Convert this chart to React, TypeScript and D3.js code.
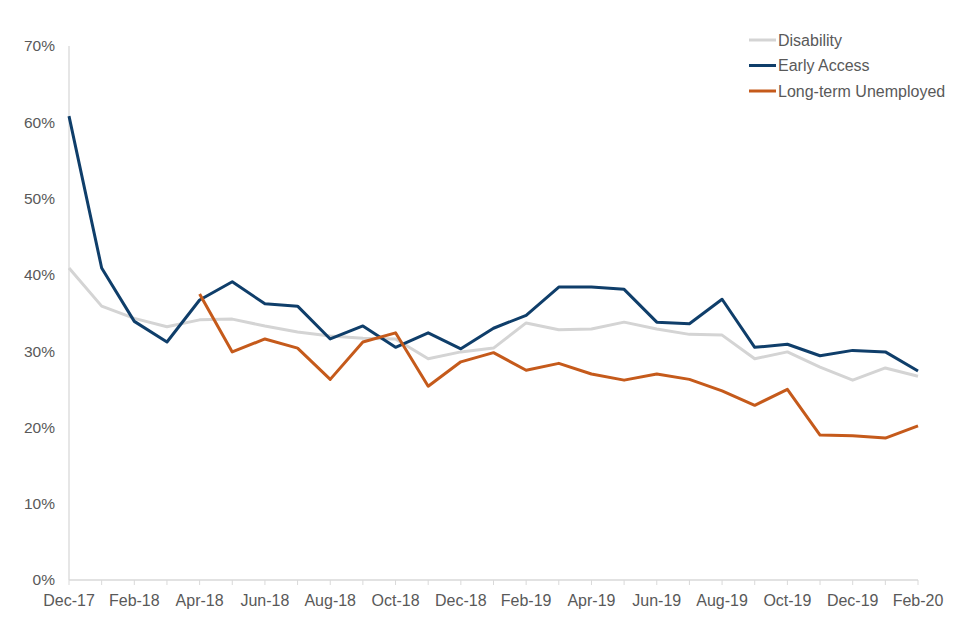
import React from "react";
import * as d3 from "d3";

const months = [
  "Dec-17","Jan-18","Feb-18","Mar-18","Apr-18","May-18","Jun-18","Jul-18","Aug-18","Sep-18","Oct-18","Nov-18",
  "Dec-18","Jan-19","Feb-19","Mar-19","Apr-19","May-19","Jun-19","Jul-19","Aug-19","Sep-19","Oct-19","Nov-19",
  "Dec-19","Jan-20","Feb-20",
];

const disability = [40.9,35.9,34.3,33.2,34.1,34.2,33.3,32.5,32.0,31.7,31.6,29.0,29.9,30.4,33.7,32.8,32.9,33.8,32.9,32.2,32.1,29.0,29.9,27.9,26.2,27.8,26.7];
const earlyAccess = [60.8,40.9,33.9,31.2,36.7,39.1,36.2,35.9,31.6,33.3,30.5,32.4,30.3,33.0,34.7,38.4,38.4,38.1,33.8,33.6,36.8,30.5,30.9,29.4,30.1,29.9,27.4];
const longTerm: (number | null)[] = [null,null,null,null,37.5,29.9,31.6,30.4,26.3,31.2,32.4,25.4,28.6,29.8,27.5,28.4,27.0,26.2,27.0,26.3,24.8,22.9,25.0,19.0,18.9,18.6,20.2];

const yTicks = [0,10,20,30,40,50,60,70];

const series = [
  { name: "Disability", values: disability as (number | null)[], color: "#d4d4d4" },
  { name: "Early Access", values: earlyAccess as (number | null)[], color: "#0f3e6a" },
  { name: "Long-term Unemployed", values: longTerm, color: "#c55a1b" },
];

const font = "'Liberation Sans', Arial, sans-serif";
const textColor = "#595959";

export default function App() {
  const W = 960, H = 640;
  const left = 69, right = 918, top = 46, bottom = 580;
  const x = d3.scalePoint<string>().domain(months).range([left, right]);
  const y = d3.scaleLinear().domain([0, 70]).range([bottom, top]);
  const line = d3.line<number | null>()
    .defined((d) => d !== null)
    .x((_, i) => x(months[i]) as number)
    .y((d) => y(d as number));

  return (
    <svg width={W} height={H} style={{ position: "absolute", left: 0, top: 0, background: "#fff" }}>
      <rect width={W} height={H} fill="#fff" />
      {/* y axis */}
      <line x1={left} x2={left} y1={top} y2={bottom} stroke="#d9d9d9" strokeWidth={1.3} />
      {yTicks.map((t) => (
        <text key={t} x={55} y={y(t)} dy="0.35em" textAnchor="end" fontFamily={font} fontSize={15.5} fill={textColor}>
          {t}%
        </text>
      ))}
      {/* x axis */}
      <line x1={left} x2={right} y1={bottom} y2={bottom} stroke="#d9d9d9" strokeWidth={1.3} />
      {months.map((m) => (
        <line key={m} x1={x(m)} x2={x(m)} y1={bottom} y2={bottom + 5} stroke="#d9d9d9" strokeWidth={1} />
      ))}
      {months.map((m, i) =>
        i % 2 === 0 ? (
          <text key={m} x={x(m)} y={606} textAnchor="middle" fontFamily={font} fontSize={16} fill={textColor}>
            {m}
          </text>
        ) : null
      )}
      {series.map((s) => (
        <path key={s.name} d={line(s.values) || ""} fill="none" stroke={s.color} strokeWidth={3} strokeLinejoin="round" />
      ))}
      {/* legend */}
      {series.map((s, i) => (
        <g key={s.name} transform={`translate(749, ${40 + i * 25.5})`}>
          <line x1={0} x2={27} y1={0} y2={0} stroke={s.color} strokeWidth={3} />
          <text x={29} y={0} dy="0.35em" fontFamily={font} fontSize={16} fill={textColor}>
            {s.name}
          </text>
        </g>
      ))}
    </svg>
  );
}
